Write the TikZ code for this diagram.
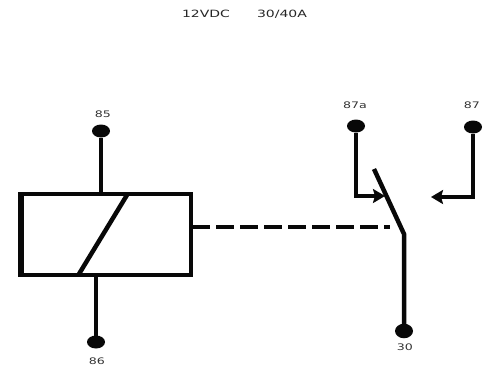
\documentclass[tikz,border=0pt]{standalone}
\usepackage{fontspec}
\setmainfont{DejaVu Sans}
\newfontfamily\widefont[FakeStretch=1.4]{DejaVu Sans}
\usetikzlibrary{arrows.meta,shapes.geometric}
\tikzset{
  wire/.style={line width=4.5pt,black!97},
  term/.style={ellipse,fill=black!97,minimum width=18pt,minimum height=13pt,inner sep=0pt,outer sep=0pt},
  lab/.style={font=\widefont\fontsize{9}{10}\selectfont,text=black!80,inner sep=0pt},
  title/.style={font=\widefont\fontsize{10}{12}\selectfont,text=black!85,inner sep=0pt},
  tiparrow/.style={-{Stealth[length=12pt,width=14pt,inset=2pt]}}
}
\begin{document}
\begin{tikzpicture}[x=1pt,y=-1pt]
\useasboundingbox (0,0) rectangle (491,381);
\node[title] (t1) at (206,14) {12VDC};
\node[title] (t2) at (282,14) {30/40A};
\node[draw=black!97,line width=4.4pt,minimum width=171pt,minimum height=81pt,inner sep=0pt,outer sep=0pt] (coil) at (105.5,234.5) {};
\coordinate (lt) at (21,194);
\coordinate (lb) at (21,275);
\draw[line width=5.8pt,black!97] (lt) -- (lb);
\coordinate (sa) at (127,195);
\coordinate (sb) at (79,274);
\draw[wire] (sa) -- (sb);
\node[term] (k85) at (101,131) {};
\node[term] (k86) at (96,342) {};
\node[term] (k87a) at (356,126) {};
\node[term] (k87) at (473,127) {};
\node[term,minimum height=14.5pt] (k30) at (404,331) {};
\coordinate (c85) at (101,194);
\coordinate (c86) at (96,276);
\draw[wire] (k85) -- (c85);
\draw[wire] (k86) -- (c86);
\node[lab] (l85) at (103,114) {85};
\node[lab] (l86) at (97,361) {86};
\node[lab] (l87a) at (355,105) {87a};
\node[lab] (l87) at (472,105) {87};
\node[lab] (l30) at (405,347) {30};
\coordinate (a1) at (356,196);
\coordinate (a2) at (385,196);
\draw[wire,tiparrow,line join=miter] (k87a) -- (a1) -- (a2);
\coordinate (b1) at (473,197);
\coordinate (b2) at (431,197);
\draw[wire,tiparrow,line join=miter] (k87) -- (b1) -- (b2);
\coordinate (s1) at (374,169);
\coordinate (s2) at (404,234);
\draw[wire,line join=miter] (s1) -- (s2) -- (k30);
\coordinate (d1) at (192,227);
\coordinate (d2) at (390,227);
\draw[line width=3.2pt,black!97,dash pattern=on 18pt off 6pt] (d1) -- (d2);
\end{tikzpicture}
\end{document}
